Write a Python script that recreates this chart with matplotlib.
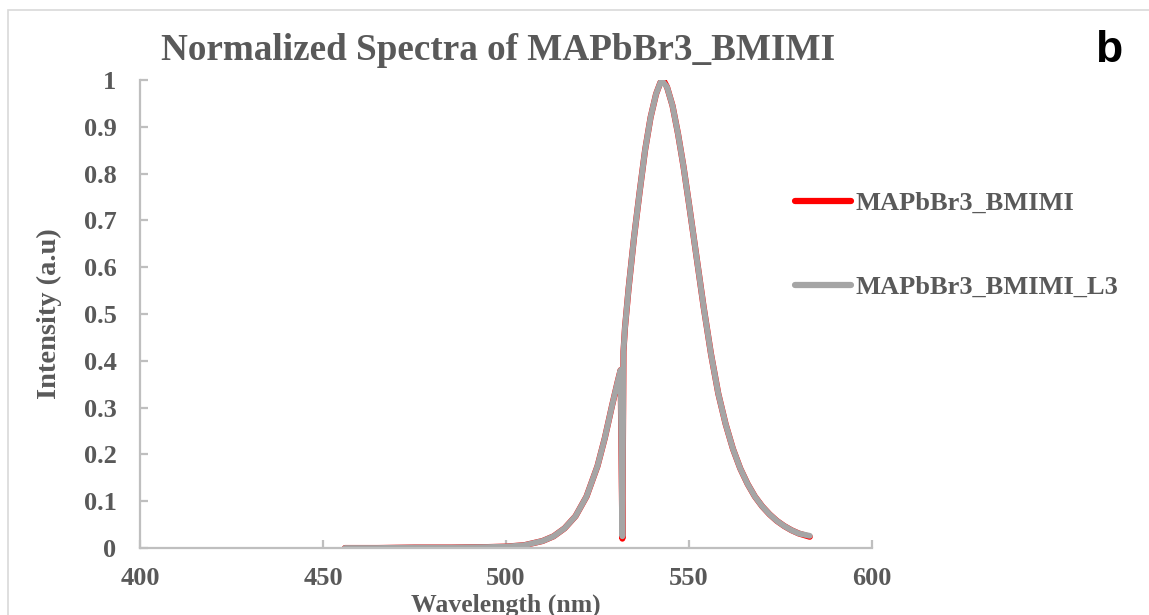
import matplotlib
matplotlib.use("Agg")
import matplotlib.pyplot as plt
from matplotlib.patches import Rectangle

# ---- data ----
wl_red = [456, 465, 475, 485, 495, 500, 505, 510, 513, 516, 519, 522, 525, 527, 529, 530.5, 531.3,
          531.8, 532.1, 532.5, 533.5, 535, 536.5, 538, 539.5, 541, 542.2, 543, 544, 545.5, 547,
          548.5, 550, 552, 554, 556, 558, 560, 562, 564, 566, 568, 570, 572, 574, 576, 578, 580, 583]
int_red = [0.000, 0.000, 0.001, 0.001, 0.002, 0.003, 0.006, 0.015, 0.025, 0.042, 0.068, 0.110, 0.175,
           0.235, 0.305, 0.355, 0.380, 0.020, 0.420, 0.470, 0.555, 0.665, 0.760, 0.850, 0.920, 0.970,
           0.995, 1.000, 0.985, 0.945, 0.885, 0.815, 0.735, 0.625, 0.515, 0.415, 0.330, 0.265, 0.212,
           0.170, 0.137, 0.110, 0.089, 0.072, 0.058, 0.047, 0.038, 0.031, 0.024]

wl_gray = wl_red
int_gray = [0.000, 0.000, 0.001, 0.001, 0.002, 0.003, 0.006, 0.015, 0.025, 0.042, 0.068, 0.110, 0.175,
            0.235, 0.305, 0.355, 0.380, 0.025, 0.420, 0.470, 0.555, 0.665, 0.760, 0.850, 0.920, 0.970,
            0.995, 0.995, 0.985, 0.945, 0.885, 0.815, 0.735, 0.625, 0.515, 0.415, 0.330, 0.265, 0.212,
            0.170, 0.137, 0.110, 0.089, 0.072, 0.058, 0.047, 0.038, 0.031, 0.026]

series_names = ["MAPbBr3_BMIMI", "MAPbBr3_BMIMI_L3"]
x_ticks = [400, 450, 500, 550, 600]
y_ticks = [0, 0.1, 0.2, 0.3, 0.4, 0.5, 0.6, 0.7, 0.8, 0.9, 1]
y_tick_labels = ["0", "0.1", "0.2", "0.3", "0.4", "0.5", "0.6", "0.7", "0.8", "0.9", "1"]

TXT = "#595959"
SPINE = "#BFBFBF"
serif = ["Liberation Serif", "DejaVu Serif"]

fig = plt.figure(figsize=(11.49, 6.15), dpi=100)
fig.patch.set_facecolor("white")

# chart-area border
fig.add_artist(Rectangle((8 / 1149, -0.1), 1.2, 1 - 10 / 615 + 0.1, transform=fig.transFigure,
                         fill=False, edgecolor="#D9D9D9", linewidth=1.2))

ax = fig.add_axes([140 / 1149, 1 - 548 / 615, (872 - 140) / 1149, (548 - 80) / 615])
ax.plot(wl_red, int_red, color="#FF0000", linewidth=4.4, solid_capstyle="round",
        solid_joinstyle="round", label=series_names[0])
ax.plot(wl_gray, int_gray, color="#A5A5A5", linewidth=4.2, solid_capstyle="round",
        solid_joinstyle="round", label=series_names[1])

ax.set_xlim(400, 600)
ax.set_ylim(0, 1)
ax.set_xticks(x_ticks)
ax.set_yticks(y_ticks)
ax.set_yticklabels(y_tick_labels)
for s in ["top", "right"]:
    ax.spines[s].set_visible(False)
for s in ["left", "bottom"]:
    ax.spines[s].set_color(SPINE)
    ax.spines[s].set_linewidth(1.6)
ax.tick_params(direction="in", length=6, width=1.6, color=SPINE, labelcolor=TXT, labelsize=19)
for lab in ax.get_xticklabels() + ax.get_yticklabels():
    lab.set_fontfamily(serif)
    lab.set_fontweight("bold")
ax.tick_params(axis="x", pad=14)
ax.tick_params(axis="y", pad=17)

ax.set_xlabel("Wavelength (nm)", fontfamily=serif, fontweight="bold", fontsize=18.5, color=TXT)
ax.set_ylabel("Intensity (a.u)", fontfamily=serif, fontweight="bold", fontsize=20.5, color=TXT)
ax.xaxis.set_label_coords(0.5, -0.097)
ax.yaxis.set_label_coords(-0.124, 0.5)
ax.yaxis.label.set_va("center")

fig.text(498 / 1149, 1 - 50 / 615, "Normalized Spectra of MAPbBr3_BMIMI", ha="center", va="center",
         fontfamily=serif, fontweight="bold", fontsize=26.7, color=TXT)
fig.text(1109 / 1149, 1 - 50 / 615, "b", ha="center", va="center",
         fontfamily=["Liberation Sans", "DejaVu Sans"], fontweight="bold", fontsize=32, color="black")

leg = ax.legend(loc="upper left", bbox_to_anchor=(0.895, 0.762), frameon=False,
                prop={"family": serif, "weight": "bold", "size": 19},
                handlelength=2.1, handletextpad=0.2, labelspacing=2.3,
                borderpad=0, borderaxespad=0)
for t in leg.get_texts():
    t.set_color(TXT)
for h in leg.get_lines():
    h.set_linewidth(4.5)

fig.savefig("out.png", dpi=100, facecolor="white")
